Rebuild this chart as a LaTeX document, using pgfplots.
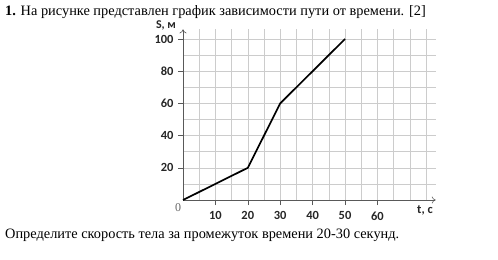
\documentclass[border=0pt]{standalone}
\usepackage{pgfplots}
\pgfplotsset{compat=1.18}
\usetikzlibrary{arrows.meta}
\usepackage{fontspec}
\setmainfont{Liberation Serif}
\newfontfamily\calfont{Carlito}
\begin{document}
\begin{tikzpicture}[x=1bp,y=1bp]
\path (0,0) rectangle (498,-259);
\node[anchor=base west, inner sep=0, font=\fontsize{14.4}{17}\selectfont] at (5,-15) {\textbf{1.} На рисунке представлен график зависимости пути от времени. [2]};
\begin{axis}[
  at={(183bp,-200bp)}, anchor=origin,
  x=3.24bp, y=1.61bp,
  xmin=0, xmax=78, ymin=0, ymax=106,
  axis lines=middle,
  axis line style={black!65, line width=0.6bp, -{To[length=4bp,width=7bp]}},
  xtick={10,20,30,40,50,60}, xticklabels={10,20,30,40,50,60},
  ytick={20,40,60,80,100}, yticklabels={20,40,60,80,100},
  minor xtick={5,15,25,35,45,55,65,70,75},
  minor ytick={10,30,50,70,90},
  grid=both,
  major grid style={black!20, line width=0.6bp},
  minor grid style={black!20, line width=0.6bp},
  tick align=outside,
  major tick length=5bp, minor tick length=0bp,
  tick style={black!65, line width=0.6bp},
  ticklabel style={font=\calfont\bfseries\fontsize{12.5}{14}\selectfont, text=black!85},
  xticklabel style={yshift=-3bp},
  yticklabel style={xshift=-1bp},
  clip=false,
]
\addplot[black, line width=1.7bp, line join=round] coordinates {(0,0) (20,20) (30,60) (50,100)};
\end{axis}
\node[font=\fontsize{12}{14}\selectfont, text=black!60] at (178,-208) {0};
\node[font=\calfont\bfseries\fontsize{12}{14}\selectfont, text=black!85] at (166,-25) {S, м};
\node[font=\calfont\bfseries\fontsize{12.5}{14}\selectfont, text=black!85] at (425,-210) {t, c};
\node[anchor=base west, inner sep=0, font=\fontsize{14.4}{17}\selectfont] at (5,-238) {Определите скорость тела за промежуток времени 20-30 секунд.};
\end{tikzpicture}
\end{document}
